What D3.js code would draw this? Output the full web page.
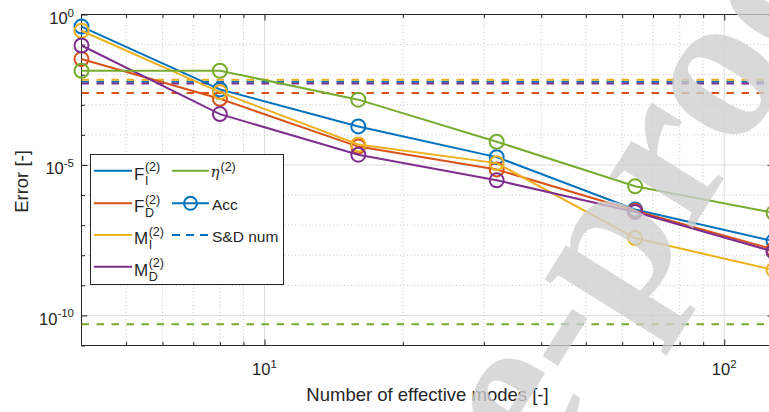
<!DOCTYPE html>
<html>
<head>
<meta charset="utf-8">
<script src="https://d3js.org/d3.v7.min.js"></script>
<style>
  body { margin: 0; background: #fff; }
  svg { display: block; font-family: "Liberation Sans", Arial, sans-serif; }
  .tick line { stroke: #262626; }
</style>
</head>
<body>
<div id="plot"></div>
<script>
// number of effective modes
const modes = [4, 8, 16, 32, 64, 128];

// errors of each quantity
const errFI = [3.98e-1, 3.24e-3, 1.91e-4, 1.82e-5, 3.31e-7, 2.95e-8];
const errFD = [3.31e-2, 1.58e-3, 4.07e-5, 7.08e-6, 3.02e-7, 1.55e-8];
const errMI = [2.88e-1, 2.63e-3, 4.79e-5, 1.15e-5, 3.72e-8, 3.24e-9];
const errMD = [9.33e-2, 4.90e-4, 2.19e-5, 3.09e-6, 2.75e-7, 1.32e-8];
const errEta = [1.35e-2, 1.35e-2, 1.48e-3, 5.89e-5, 1.95e-6, 2.57e-7];

// S&D numerical reference levels (dashed)
const sdFI = 5.85e-3;
const sdFD = 2.46e-3;
const sdMI = 6.8e-3;
const sdMD = 5.1e-3;
const sdEta = 5.1e-11;

const seriesNames = ["FI", "FD", "MI", "MD", "eta"];
const seriesColors = ["#0072BD", "#D95319", "#EDB120", "#7E2F8E", "#77AC30"];
const seriesErr = [errFI, errFD, errMI, errMD, errEta];
const seriesSD = [sdFI, sdFD, sdMI, sdMD, sdEta];

// axis ticks
const xMajorTicks = [10, 100];
const xMinorTicks = [5, 6, 7, 8, 9, 20, 30, 40, 50, 60, 70, 80, 90];
const yMajorTicks = [1, 1e-5, 1e-10];
const yMinorTicks = [1e-1, 1e-2, 1e-3, 1e-4, 1e-6, 1e-7, 1e-8, 1e-9, 1e-11];
const xTickLabels = [["10", "1"], ["10", "2"]];
const yTickLabels = [["10", "0"], ["10", "-5"], ["10", "-10"]];

const W = 769, H = 412;
const L = 81.5, R = 773.5, T = 14.5, B = 345.5;
const ink = "#262626";

let svg = d3.select("#plot").append("svg")
  .attr("width", W).attr("height", H);

let x = d3.scaleLog().domain([4, 128]).range([L, R]);
let y = d3.scaleLog().domain([1e-11, 1]).range([B, T]);

svg.append("clipPath").attr("id", "clip")
  .append("rect").attr("x", L).attr("y", T).attr("width", R - L).attr("height", B - T);

// grid
let grid = svg.append("g");
grid.selectAll(".gxm").data(xMinorTicks).enter().append("line")
  .attr("x1", d => x(d)).attr("x2", d => x(d)).attr("y1", T).attr("y2", B)
  .attr("stroke", "#c8c8c8").attr("stroke-width", 1).attr("stroke-dasharray", "1,2.5");
grid.selectAll(".gym").data(yMinorTicks.filter(d => d > 1e-11)).enter().append("line")
  .attr("y1", d => y(d)).attr("y2", d => y(d)).attr("x1", L).attr("x2", R)
  .attr("stroke", "#c8c8c8").attr("stroke-width", 1).attr("stroke-dasharray", "1,2.5");
grid.selectAll(".gxM").data(xMajorTicks).enter().append("line")
  .attr("x1", d => x(d)).attr("x2", d => x(d)).attr("y1", T).attr("y2", B)
  .attr("stroke", "#dcdcdc").attr("stroke-width", 1);
grid.selectAll(".gyM").data(yMajorTicks).enter().append("line")
  .attr("y1", d => y(d)).attr("y2", d => y(d)).attr("x1", L).attr("x2", R)
  .attr("stroke", "#dcdcdc").attr("stroke-width", 1);

// ticks (inward, on all four sides)
function ticks(axisFn, scale, vals, size, transform) {
  svg.append("g").attr("transform", transform)
    .call(axisFn(scale).tickValues(vals).tickSize(size).tickFormat(""))
    .call(g => g.select(".domain").remove());
}
ticks(d3.axisBottom, x, xMajorTicks, -6, `translate(0,${B})`);
ticks(d3.axisBottom, x, xMinorTicks, -3.5, `translate(0,${B})`);
ticks(d3.axisTop, x, xMajorTicks, -6, `translate(0,${T})`);
ticks(d3.axisTop, x, xMinorTicks, -3.5, `translate(0,${T})`);
ticks(d3.axisLeft, y, yMajorTicks, -6, `translate(${L},0)`);
ticks(d3.axisLeft, y, yMinorTicks, -3.5, `translate(${L},0)`);
ticks(d3.axisRight, y, yMajorTicks, -6, `translate(${R},0)`);
ticks(d3.axisRight, y, yMinorTicks, -3.5, `translate(${R},0)`);

// plot box
svg.append("rect").attr("x", L).attr("y", T).attr("width", R - L).attr("height", B - T)
  .attr("fill", "none").attr("stroke", ink).attr("stroke-width", 1);

// tick labels with superscripts
xMajorTicks.forEach((v, i) => {
  let t = svg.append("text").attr("x", x(v)).attr("y", B + 29)
    .attr("text-anchor", "middle").attr("fill", ink).style("font-size", "16.5px");
  t.append("tspan").text(xTickLabels[i][0]);
  t.append("tspan").attr("dy", -7).style("font-size", "11.5px").text(xTickLabels[i][1]);
});
yMajorTicks.forEach((v, i) => {
  let t = svg.append("text").attr("x", 74).attr("y", y(v) + 9.5)
    .attr("text-anchor", "end").attr("fill", ink).style("font-size", "16.5px");
  t.append("tspan").text(yTickLabels[i][0]);
  t.append("tspan").attr("dy", -7.5).style("font-size", "11.5px").text(yTickLabels[i][1]);
});

// axis labels
svg.append("text").attr("x", (L + R) / 2).attr("y", 400.5)
  .attr("text-anchor", "middle").attr("fill", ink).style("font-size", "18.5px")
  .text("Number of effective modes [-]");
svg.append("text").attr("transform", "translate(27.5,181.5) rotate(-90)")
  .attr("text-anchor", "middle").attr("fill", ink).style("font-size", "18.5px")
  .text("Error [-]");

// data
let plotArea = svg.append("g").attr("clip-path", "url(#clip)");

seriesSD.forEach((v, i) => {
  plotArea.append("line")
    .attr("x1", L).attr("x2", R).attr("y1", y(v)).attr("y2", y(v))
    .attr("stroke", seriesColors[i]).attr("stroke-width", 2)
    .attr("stroke-dasharray", "7.5,7.5");
});

let line = d3.line().x((d, j) => x(modes[j])).y(d => y(d));
let marks = svg.append("g");
seriesErr.forEach((errs, i) => {
  marks.append("path").datum(errs)
    .attr("d", line).attr("fill", "none")
    .attr("stroke", seriesColors[i]).attr("stroke-width", 2);
  marks.selectAll(".m" + seriesNames[i]).data(errs).enter().append("circle")
    .attr("cx", (d, j) => x(modes[j])).attr("cy", d => y(d)).attr("r", 7)
    .attr("fill", "none").attr("stroke", seriesColors[i]).attr("stroke-width", 2);
});

// legend
let lg = svg.append("g");
lg.append("rect").attr("x", 90.5).attr("y", 154.5).attr("width", 193).attr("height", 130)
  .attr("fill", "#fff").attr("stroke", ink).attr("stroke-width", 1);

const legendRowsY = [170.7, 203.3, 235, 266.7];
const legendSub = ["I", "D", "I", "D"];
const legendMain = ["F", "F", "M", "M"];
for (let i = 0; i < 4; i++) {
  let ly = legendRowsY[i];
  lg.append("line").attr("x1", 94).attr("x2", 132).attr("y1", ly).attr("y2", ly)
    .attr("stroke", seriesColors[i]).attr("stroke-width", 2);
  let m = lg.append("text").attr("x", 134).attr("y", ly + 9).attr("fill", ink)
    .style("font-size", "17px").text(legendMain[i]);
  let xs = 134 + m.node().getComputedTextLength() + 0.5;
  lg.append("text").attr("x", xs).attr("y", ly + 0.5).attr("fill", ink)
    .style("font-size", "12.5px").text("(2)");
  lg.append("text").attr("x", xs).attr("y", ly + 14).attr("fill", ink)
    .style("font-size", "12.5px").text(legendSub[i]);
}
// eta entry
lg.append("line").attr("x1", 172).attr("x2", 209).attr("y1", legendRowsY[0]).attr("y2", legendRowsY[0])
  .attr("stroke", seriesColors[4]).attr("stroke-width", 2);
let eta = lg.append("text").attr("x", 210.5).attr("y", legendRowsY[0] + 6).attr("fill", ink)
  .style("font-size", "15px").style("font-family", "'DejaVu Serif', serif").style("font-style", "italic")
  .text("η");
lg.append("text").attr("x", 210.5 + eta.node().getComputedTextLength() + 1).attr("y", legendRowsY[0] + 0.5)
  .attr("fill", ink).style("font-size", "12.5px").text("(2)");
// Acc entry
lg.append("line").attr("x1", 172).attr("x2", 209).attr("y1", legendRowsY[1]).attr("y2", legendRowsY[1])
  .attr("stroke", seriesColors[0]).attr("stroke-width", 2);
lg.append("circle").attr("cx", 190.5).attr("cy", legendRowsY[1]).attr("r", 6.5)
  .attr("fill", "none").attr("stroke", seriesColors[0]).attr("stroke-width", 2);
lg.append("text").attr("x", 212).attr("y", legendRowsY[1] + 6.5).attr("fill", ink)
  .style("font-size", "15.5px").text("Acc");
// S&D entry
lg.append("line").attr("x1", 172).attr("x2", 209).attr("y1", legendRowsY[2]).attr("y2", legendRowsY[2])
  .attr("stroke", seriesColors[0]).attr("stroke-width", 2).attr("stroke-dasharray", "8,6");
lg.append("text").attr("x", 212).attr("y", legendRowsY[2] + 6.5).attr("fill", ink)
  .style("font-size", "15.5px").text("S&D num");

// watermark, placed so that the hyphen sits where it does in the picture
const wmSize = 214;
let wm = svg.append("g").attr("opacity", 0.78);
let wt = wm.append("text").attr("x", 0).attr("y", 0)
  .style("font-family", "'Liberation Serif', serif").style("font-weight", "bold")
  .style("font-size", wmSize + "px").attr("fill", "#cfcfcf")
  .text("Journal Pre-proof");
let hs = wt.node().getStartPositionOfChar(11);
let he = wt.node().getEndPositionOfChar(11);
let hcx = (hs.x + he.x) / 2, hcy = -0.23 * wmSize;
wm.attr("transform", `translate(566,338) rotate(-58) translate(${-hcx},${-hcy})`);
</script>
</body>
</html>
